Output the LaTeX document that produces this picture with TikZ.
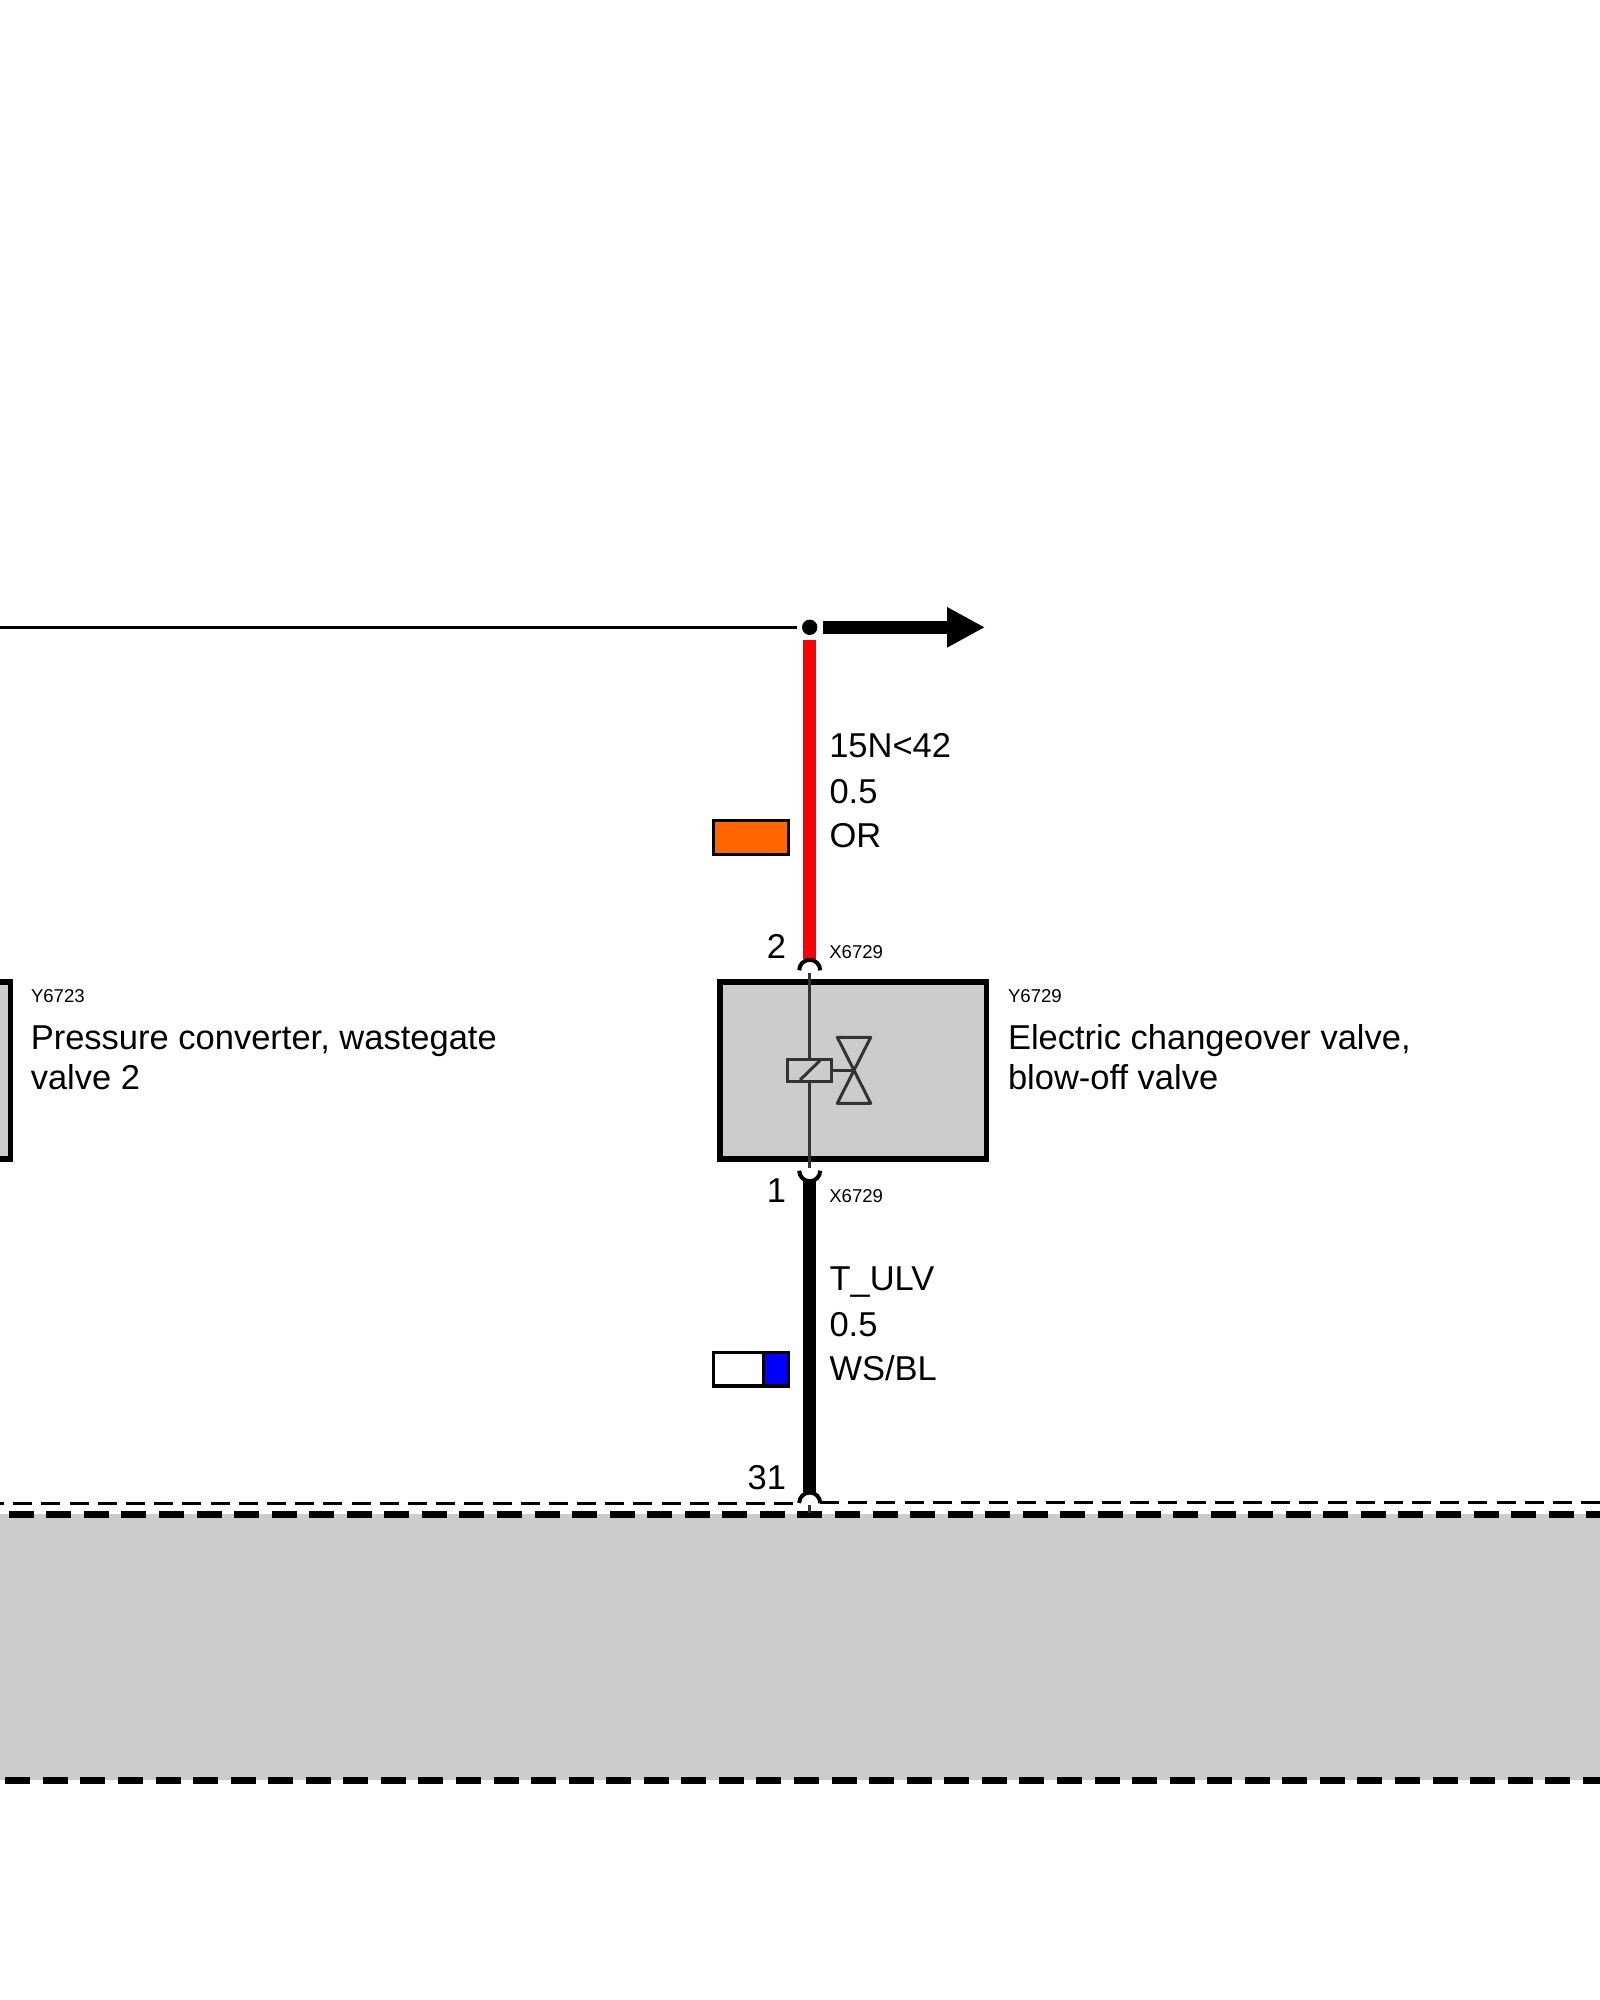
\documentclass[tikz,border=0pt]{standalone}
\usepackage{fontspec}
\setmainfont{Liberation Sans}
\usetikzlibrary{arrows.meta}
\definecolor{boxgray}{HTML}{CCCCCC}
\definecolor{symbol}{HTML}{333333}
\definecolor{wireor}{HTML}{FF6600}
\tikzset{
  lbl/.style={inner sep=0pt,outer sep=0pt,anchor=base west,align=left,font=\fontsize{34.5}{40.5}\selectfont},
  lblr/.style={inner sep=0pt,outer sep=0pt,anchor=base east,font=\fontsize{34.5}{41}\selectfont},
  tiny/.style={inner sep=0pt,outer sep=0pt,anchor=base west,font=\fontsize{18.6}{22}\selectfont},
  compbox/.style={draw=black,line width=5.9pt,fill=boxgray,minimum width=266.3pt,minimum height=177pt,inner sep=0pt},
  swatch/.style={draw=black,line width=3.2pt,minimum height=33.4pt,inner sep=0pt,outer sep=0pt},
  wire/.style={line width=12.8pt},
  pinarc/.style={draw=black,line width=4pt},
  sym/.style={draw=symbol,line width=3pt},
  thindash/.style={line width=2.8pt,dash pattern=on 19pt off 9.19pt},
  band/.style={line width=6.4pt,dash pattern=on 25pt off 12.56pt},
}
\begin{document}
\begin{tikzpicture}[x=1pt,y=-1pt]
\path[use as bounding box] (0,0) rectangle (1600,2000);
\clip (0,0) rectangle (1600,2000);
\fill[white] (0,0) rectangle (1600,2000);
% grey band
\fill[boxgray] (-50,1514.3) rectangle (1650,1780.3);
\draw[band] (-28.86,1514.3) -- (1650,1514.3);
\draw[band] (-32.3,1780.3) -- (1650,1780.3);
\draw[thindash] (-14.9,1503.3) -- (793.3,1503.3);
\draw[thindash] (820.1,1502.3) -- (1650,1502.3);
% junction
\node[circle,fill=white,minimum size=26pt,inner sep=0pt,outer sep=0pt] (jn) at (809.7,627.3) {};
\coordinate (leftend) at (-20,627.3);
\coordinate (arrowend) at (985,627.3);
\coordinate (pinTwo) at (809.7,959);
\coordinate (pinOne) at (809.7,1180);
\coordinate (pinGnd) at (809.7,1492);
\draw[line width=3pt] (leftend) -- (jn);
\draw[line width=12.5pt,-{Triangle[length=38pt,width=37.7pt]}] (jn) -- (arrowend);
\draw[wire,red] (jn) -- (pinTwo);
\draw[wire,black] (pinOne) -- (pinGnd);
\node[circle,fill=black,minimum size=15.4pt,inner sep=0pt] (dot) at (jn) {};
% pin arcs (chord centres 970.3, 1170.7, 1503)
\draw[pinarc] (799.2,970.3) arc (180:360:10.5);
\draw[pinarc] (799.2,1170.7) arc (180:0:10.5);
\draw[pinarc] (799.2,1503) arc (180:360:10.5);
% component boxes
\node[compbox] (valve) at (853.3,1070.6) {};
\node[compbox,minimum width=200pt] (conv) at (-89.5,1070.6) {};
% inner symbol
\node[draw=symbol,line width=3pt,fill=boxgray,minimum width=43.1pt,minimum height=21.5pt,inner sep=0pt] (coil) at (809.5,1070.3) {};
\coordinate (inTop) at (809.5,973);
\coordinate (inBot) at (809.5,1168);
\coordinate (bowC) at (854,1070.3);
\draw[sym] (inTop) -- (coil);
\draw[sym] (coil) -- (inBot);
\draw[sym] (coil) -- (bowC);
\draw[sym] (800,1080) -- (820,1060.5);
\draw[sym,line join=round] (837.3,1037.3) -- (870.7,1037.3) -- (837.3,1103.3) -- (870.7,1103.3) -- cycle;
\coordinate (tickTop) at (809.5,1505);
\coordinate (tickBot) at (809.5,1513);
\draw[sym] (tickTop) -- (tickBot);
% swatches
\node[swatch,fill=wireor,minimum width=75pt] (orange) at (751,837.5) {};
\node[swatch,fill=white,minimum width=51pt] (sw) at (739,1369.3) {};
\node[swatch,fill=blue,minimum width=25.5pt] (sb) at (776,1369.3) {};
% labels
\node[lbl] (w1a) at (829.3,757.2) {15N<42};
\node[lbl] (w1b) at (829.5,803.8) {0.5};
\node[lbl] (w1c) at (829.5,847.8) {OR};
\node[lbl] (w2a) at (829.5,1290) {T\_ULV};
\node[lbl] (w2b) at (829.5,1336) {0.5};
\node[lbl] (w2c) at (829.5,1380) {WS/BL};
\node[lblr] (p2) at (786,958.5) {2};
\node[lblr] (p1) at (786,1202.5) {1};
\node[lblr] (p31) at (786,1489.3) {31};
\node[tiny] (x1) at (829.3,958) {X6729};
\node[tiny] (x2) at (829.3,1202) {X6729};
\node[tiny] (y1) at (31,1002) {Y6723};
\node[tiny] (y2) at (1008,1002) {Y6729};
\node[lbl] (t1) at (30.8,1089.5) {Pressure converter, wastegate\\valve 2};
\node[lbl] (t2) at (1008,1089.5) {Electric changeover valve,\\blow-off valve};
\end{tikzpicture}
\end{document}
